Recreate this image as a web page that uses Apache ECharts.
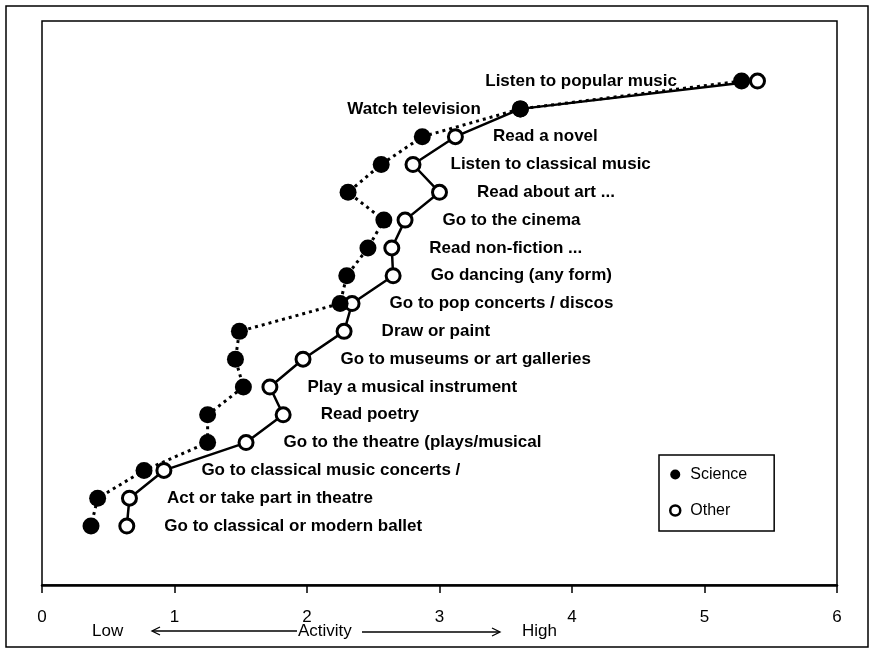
<!DOCTYPE html>
<html><head><meta charset="utf-8">
<script src="https://cdn.jsdelivr.net/npm/echarts@6/dist/echarts.min.js"></script>
<style>html,body{margin:0;padding:0;background:#fff}#c{width:872px;height:649px}</style>
</head><body><div id="c"></div>
<script>
const categories = [
  'Listen to popular music',
  'Watch television',
  'Read a novel',
  'Listen to classical music',
  'Read about art ...',
  'Go to the cinema',
  'Read non-fiction ...',
  'Go dancing (any form)',
  'Go to pop concerts / discos',
  'Draw or paint',
  'Go to museums or art galleries',
  'Play a musical instrument',
  'Read poetry',
  'Go to the theatre (plays/musical',
  'Go to classical music concerts /',
  'Act or take part in theatre',
  'Go to classical or modern ballet'
];
const science = [5.28, 3.61, 2.87, 2.56, 2.31, 2.58, 2.46, 2.30, 2.25, 1.49, 1.46, 1.52, 1.25, 1.25, 0.77, 0.42, 0.37];
const other   = [5.40, 3.61, 3.12, 2.80, 3.00, 2.74, 2.64, 2.65, 2.34, 2.28, 1.97, 1.72, 1.82, 1.54, 0.92, 0.66, 0.64];
const xTicks = [0, 1, 2, 3, 4, 5, 6];
const axisWords = ['Low', 'Activity', 'High'];
const seriesNames = ['Science', 'Other'];

const FONT = '"Liberation Sans", Arial, sans-serif';
const chart = echarts.init(document.getElementById('c'), null, {renderer: 'canvas'});

const otherData = other.map((v, i) => {
  const d = {value: [v, i]};
  if (i === 0) d.label = {position: 'left', distance: 72};
  if (i === 1) d.label = {position: 'left', distance: 31};
  return d;
});
const scienceData = science.map((v, i) => [v, i]);

const option = {
  backgroundColor: '#fff',
  animation: false,
  grid: {left: 42, right: 35, top: 21, bottom: 64, show: true, borderColor: '#000', borderWidth: 1.5, backgroundColor: 'transparent'},
  xAxis: {
    type: 'value', min: xTicks[0], max: xTicks[xTicks.length - 1], interval: 1,
    axisLine: {show: true, onZero: false, lineStyle: {color: '#000', width: 2.5}},
    axisTick: {show: true, inside: false, length: 8, lineStyle: {color: '#000', width: 1.5}},
    axisLabel: {color: '#000', fontSize: 17, fontFamily: FONT, margin: 24,
      formatter: v => xTicks.includes(v) ? String(v) : ''},
    splitLine: {show: false}
  },
  yAxis: {
    type: 'value', inverse: true, min: -2.16, max: 18.12,
    show: false, splitLine: {show: false}
  },
  legend: {
    orient: 'vertical', left: 659, top: 455,
    padding: [11, 27, 12, 10], itemGap: 19, itemWidth: 20, itemHeight: 10,
    borderColor: '#000', borderWidth: 1.5, backgroundColor: '#fff',
    textStyle: {color: '#000', fontSize: 16, fontFamily: FONT, lineHeight: 17},
    data: [
      {name: seriesNames[0], icon: 'circle', itemStyle: {color: '#000', borderWidth: 0}},
      {name: seriesNames[1], icon: 'circle', itemStyle: {color: '#fff', borderColor: '#000', borderWidth: 2.5}}
    ]
  },
  series: [
    {
      name: seriesNames[1], type: 'line', data: otherData,
      symbol: 'circle', symbolSize: 14,
      itemStyle: {color: '#fff', borderColor: '#000', borderWidth: 3},
      lineStyle: {color: '#000', width: 2.5, type: 'solid'},
      label: {show: true, position: 'right', distance: 29, color: '#000',
        fontSize: 17, fontWeight: 'bold', fontFamily: FONT,
        formatter: p => categories[p.dataIndex]},
      emphasis: {disabled: true}, z: 2
    },
    {
      name: seriesNames[0], type: 'line', data: scienceData,
      symbol: 'circle', symbolSize: 17,
      itemStyle: {color: '#000', borderWidth: 0},
      lineStyle: {color: '#000', width: 3, type: [3, 4]},
      emphasis: {disabled: true}, z: 3
    }
  ],
  graphic: [
    {type: 'rect', shape: {x: 6, y: 6, width: 862, height: 641}, style: {fill: 'none', stroke: '#000', lineWidth: 1.5}, silent: true},
    {type: 'text', left: 92, top: 623, style: {text: axisWords[0], font: '17px ' + FONT, fill: '#000'}},
    {type: 'polyline', shape: {points: [[160, 627], [152, 631], [160, 635]]}, style: {stroke: '#000', lineWidth: 1.3, fill: 'none'}},
    {type: 'line', shape: {x1: 153, y1: 631, x2: 297, y2: 631}, style: {stroke: '#000', lineWidth: 1.5}},
    {type: 'text', left: 298, top: 623, style: {text: axisWords[1], font: '17px ' + FONT, fill: '#000'}},
    {type: 'line', shape: {x1: 362, y1: 632, x2: 499, y2: 632}, style: {stroke: '#000', lineWidth: 1.5}},
    {type: 'polyline', shape: {points: [[492, 628], [500, 632], [492, 636]]}, style: {stroke: '#000', lineWidth: 1.3, fill: 'none'}},
    {type: 'text', left: 522, top: 623, style: {text: axisWords[2], font: '17px ' + FONT, fill: '#000'}}
  ]
};
chart.setOption(option);
</script>
</body></html>
